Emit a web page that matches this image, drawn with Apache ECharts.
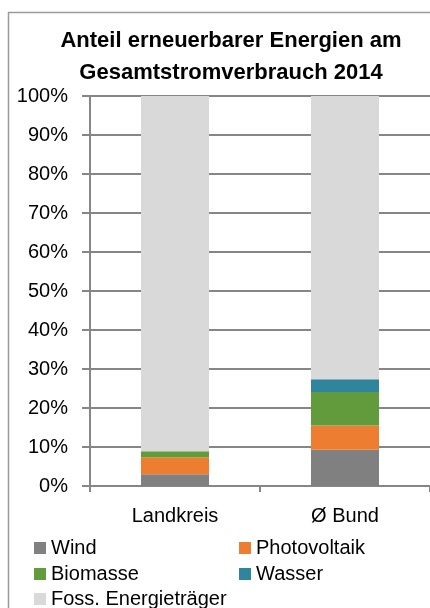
<!DOCTYPE html>
<html><head><meta charset="utf-8">
<script src="https://cdn.jsdelivr.net/npm/echarts@6/dist/echarts.min.js"></script>
<style>html,body{margin:0;padding:0;background:#fff}#c{width:430px;height:608px}</style>
</head><body><div id="c"></div>
<script>
const categories = ['Landkreis', 'Ø Bund'];
const wind = [3.0, 9.3];
const photovoltaik = [4.4, 6.2];
const biomasse = [1.5, 8.6];
const wasser = [0.0, 3.3];
const fossil = [91.1, 72.6];
const seriesNames = ['Wind', 'Photovoltaik', 'Biomasse', 'Wasser', 'Foss. Energieträger'];
const colors = ['#808080', '#ED7D31', '#619B3C', '#2F859C', '#D9D9D9'];
const yTicks = [0, 10, 20, 30, 40, 50, 60, 70, 80, 90, 100];

const FONT = '"Liberation Sans", Arial, sans-serif';
const chart = echarts.init(document.getElementById('c'), null, {renderer: 'canvas'});
const data = [wind, photovoltaik, biomasse, wasser, fossil];

const legendPos = [[34, 538], [239, 538], [34, 564], [239, 564], [34, 589]];
const legends = seriesNames.map((n, i) => ({
  data: [n], left: legendPos[i][0], top: legendPos[i][1],
  icon: 'rect', itemWidth: 12, itemHeight: 12, itemGap: 0, padding: 0,
  selectedMode: false,
  textStyle: {fontFamily: FONT, fontSize: 20, color: '#000', padding: [0, 0, 0, 0]}
}));

chart.setOption({
  animation: false,
  color: colors,
  title: {
    text: 'Anteil erneuerbarer Energien am\nGesamtstromverbrauch 2014',
    left: 226, top: 20, textAlign: 'center',
    textStyle: {fontFamily: FONT, fontSize: 22, fontWeight: 'bold', color: '#000', lineHeight: 32}
  },
  graphic: [{
    type: 'rect', shape: {x: 8.5, y: 12.5, width: 600, height: 700},
    style: {fill: 'none', stroke: '#9a9a9a', lineWidth: 1.5}, silent: true
  }],
  legend: legends,
  grid: {left: 90, right: 0, top: 96, bottom: 122, containLabel: false},
  xAxis: {
    type: 'category', data: categories,
    axisLine: {lineStyle: {color: '#868686', width: 2}},
    axisTick: {show: true, length: 6, alignWithLabel: false, lineStyle: {color: '#868686', width: 2}},
    axisLabel: {fontFamily: FONT, fontSize: 20, color: '#000', margin: 20}
  },
  yAxis: {
    type: 'value', min: 0, max: 100, interval: 10,
    axisLine: {show: true, lineStyle: {color: '#868686', width: 2}},
    axisTick: {show: true, length: 8, lineStyle: {color: '#868686', width: 2}},
    splitLine: {lineStyle: {color: '#868686', width: 2}},
    axisLabel: {fontFamily: FONT, fontSize: 20, color: '#000', margin: 22,
      formatter: v => yTicks.includes(v) ? v + '%' : ''}
  },
  series: seriesNames.map((n, i) => ({
    name: n, type: 'bar', stack: 'total', barWidth: '40%',
    data: data[i], itemStyle: {color: colors[i]}
  }))
});
</script></body></html>
